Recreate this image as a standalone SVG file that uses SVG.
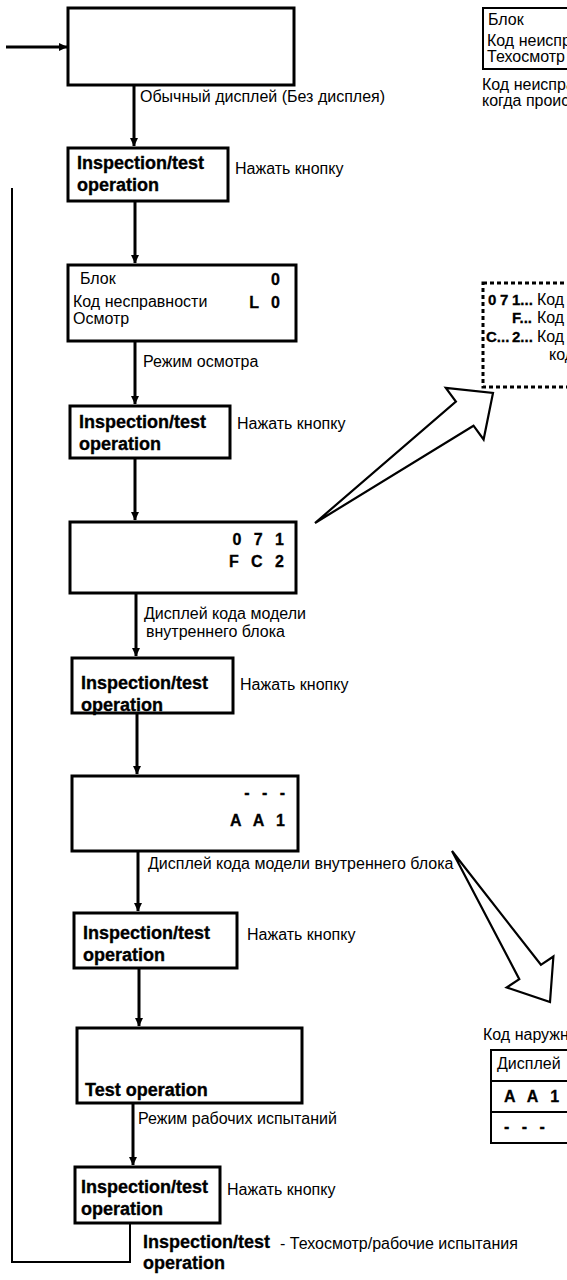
<svg xmlns="http://www.w3.org/2000/svg" width="567" height="1280" viewBox="0 0 567 1280">
<defs>
<marker id="ah" markerWidth="9" markerHeight="9" refX="8" refY="4.5" orient="auto" markerUnits="userSpaceOnUse">
<path d="M0,0.5 L8.5,4.5 L0,8.5 z" fill="#000"/>
</marker>
<style>
.box{fill:#fff;stroke:#000;stroke-width:3}
.dot{fill:#fff;stroke:#000;stroke-width:3;stroke-dasharray:4 3}
.thin{fill:#fff;stroke:#000;stroke-width:2}
.con{fill:none;stroke:#000;stroke-width:3}
.loop{fill:none;stroke:#000;stroke-width:2}
.big{fill:#fff;stroke:#000;stroke-width:2.2;stroke-linejoin:miter}
text{font-family:"Liberation Sans",Arial,sans-serif;fill:#000}
.lb{font-size:16px}
.bd{font-size:18px;font-weight:bold;stroke:#000;stroke-width:0.35}
.code{font-size:16px;font-weight:bold;letter-spacing:4px;stroke:#000;stroke-width:0.3}
.sm{font-size:16px}
.sb{font-size:15px;font-weight:bold;stroke:#000;stroke-width:0.3}
.lg{font-size:18px;font-weight:bold;stroke:#000;stroke-width:0.3}
</style>
</defs>

<g id="connectors">
<line x1="6" y1="47" x2="67" y2="47" class="con" marker-end="url(#ah)"/>
<line x1="134" y1="86" x2="134" y2="146" class="con" marker-end="url(#ah)"/>
<line x1="135" y1="202" x2="135" y2="263" class="con" marker-end="url(#ah)"/>
<line x1="135" y1="342" x2="135" y2="404" class="con" marker-end="url(#ah)"/>
<line x1="135" y1="459" x2="135" y2="520" class="con" marker-end="url(#ah)"/>
<line x1="136" y1="594" x2="136" y2="656" class="con" marker-end="url(#ah)"/>
<line x1="137" y1="714" x2="137" y2="774" class="con" marker-end="url(#ah)"/>
<line x1="138" y1="852" x2="138" y2="911" class="con" marker-end="url(#ah)"/>
<line x1="139" y1="969" x2="139" y2="1026" class="con" marker-end="url(#ah)"/>
<line x1="133" y1="1104" x2="133" y2="1165" class="con" marker-end="url(#ah)"/>
<polyline points="130,1224 130,1262 12,1262 12,188" class="loop"/>
</g>

<g id="n_top">
<rect x="68" y="8" width="226" height="77" class="box"/>
<text x="140" y="102" class="lb">Обычный дисплей (Без дисплея)</text>
</g>

<g id="n_insp1">
<rect x="68" y="148" width="160" height="53" class="box"/>
<text x="77" y="169" class="bd">Inspection/test</text>
<text x="77" y="191" class="bd">operation</text>
<text x="235" y="174" class="lb">Нажать кнопку</text>
</g>

<g id="n_block">
<rect x="68" y="265" width="228" height="76" class="box"/>
<text x="80" y="284" class="lb">Блок</text>
<text x="284" y="285" class="code" text-anchor="end" letter-spacing="0">0</text>
<text x="73" y="307" class="lb">Код несправности</text>
<text x="284" y="308" class="code" text-anchor="end" letter-spacing="0">L 0</text>
<text x="73" y="324" class="lb">Осмотр</text>
<text x="143" y="367" class="lb">Режим осмотра</text>
</g>

<g id="n_insp2">
<rect x="70" y="406" width="160" height="52" class="box"/>
<text x="79" y="428" class="bd">Inspection/test</text>
<text x="79" y="450" class="bd">operation</text>
<text x="237" y="429" class="lb">Нажать кнопку</text>
</g>

<g id="n_model">
<rect x="70" y="522" width="226" height="71" class="box"/>
<text x="288" y="545" class="code" text-anchor="end">0 7 1</text>
<text x="288" y="567" class="code" text-anchor="end">F C 2</text>
<text x="144" y="619" class="lb">Дисплей кода модели</text>
<text x="146" y="637" class="lb">внутреннего блока</text>
</g>

<g id="n_insp3">
<rect x="72" y="658" width="161" height="55" class="box"/>
<text x="81" y="689" class="bd">Inspection/test</text>
<text x="81" y="711" class="bd">operation</text>
<text x="240" y="690" class="lb">Нажать кнопку</text>
</g>

<g id="n_aa1">
<rect x="72" y="776" width="226" height="75" class="box"/>
<text x="289" y="798" class="code" text-anchor="end">- - -</text>
<text x="289" y="826" class="code" text-anchor="end">A A 1</text>
<text x="148" y="869" class="lb">Дисплей кода модели внутреннего блока</text>
</g>

<g id="n_insp4">
<rect x="74" y="913" width="163" height="55" class="box"/>
<text x="83" y="939" class="bd">Inspection/test</text>
<text x="83" y="961" class="bd">operation</text>
<text x="247" y="940" class="lb">Нажать кнопку</text>
</g>

<g id="n_test">
<rect x="77" y="1028" width="225" height="75" class="box"/>
<text x="85" y="1096" class="bd">Test operation</text>
<text x="138" y="1124" class="lb">Режим рабочих испытаний</text>
</g>

<g id="n_insp5">
<rect x="75" y="1167" width="145" height="56" class="box"/>
<text x="81" y="1193" class="bd">Inspection/test</text>
<text x="81" y="1215" class="bd">operation</text>
<text x="227" y="1195" class="lb">Нажать кнопку</text>
</g>

<g id="legend">
<text x="143" y="1248" class="lg">Inspection/test</text>
<text x="143" y="1269" class="lg">operation</text>
<text x="280" y="1249" class="lb">- Техосмотр/рабочие испытания</text>
</g>

<g id="n_topright">
<rect x="483" y="8" width="100" height="61" class="thin"/>
<text x="488" y="25" class="sm">Блок</text>
<text x="487" y="46" class="sm">Код неисправности</text>
<text x="487" y="62" class="sm">Техосмотр</text>
<text x="482" y="90" class="sm">Код неисправности</text>
<text x="482" y="106" class="sm">когда происходит</text>
</g>

<g id="n_dotted">
<rect x="483" y="283" width="100" height="104" class="dot"/>
<text x="488" y="305" class="sb">0</text><text x="500" y="305" class="sb">7</text><text x="512" y="305" class="sb">1...</text><text x="537" y="305" class="sm">Код</text>
<text x="512" y="323" class="sb">F...</text><text x="537" y="323" class="sm">Код</text>
<text x="486" y="342" class="sb">C...</text><text x="512" y="342" class="sb">2...</text><text x="537" y="342" class="sm">Код</text>
<text x="549" y="360" class="sm">код</text>
</g>

<g id="bigarrow1">
<polygon points="315,523 455.9,401.5 445.8,387.8 493,393 483.6,439.5 473.5,425.7" class="big"/>
</g>

<g id="bigarrow2">
<polygon points="452,851 540.9,964.8 553.4,956.5 550,1002 506.7,987.5 519.3,979.2" class="big"/>
</g>

<g id="n_outdoor">
<text x="483" y="1040" class="sm">Код наружного</text>
<rect x="491" y="1050" width="100" height="93" class="thin"/>
<line x1="491" y1="1081" x2="591" y2="1081" class="loop"/>
<line x1="491" y1="1112" x2="591" y2="1112" class="loop"/>
<text x="497" y="1069" class="sm">Дисплей</text>
<text x="504" y="1102" class="code">A A 1</text>
<text x="504" y="1132" class="code">- - -</text>
</g>
</svg>
